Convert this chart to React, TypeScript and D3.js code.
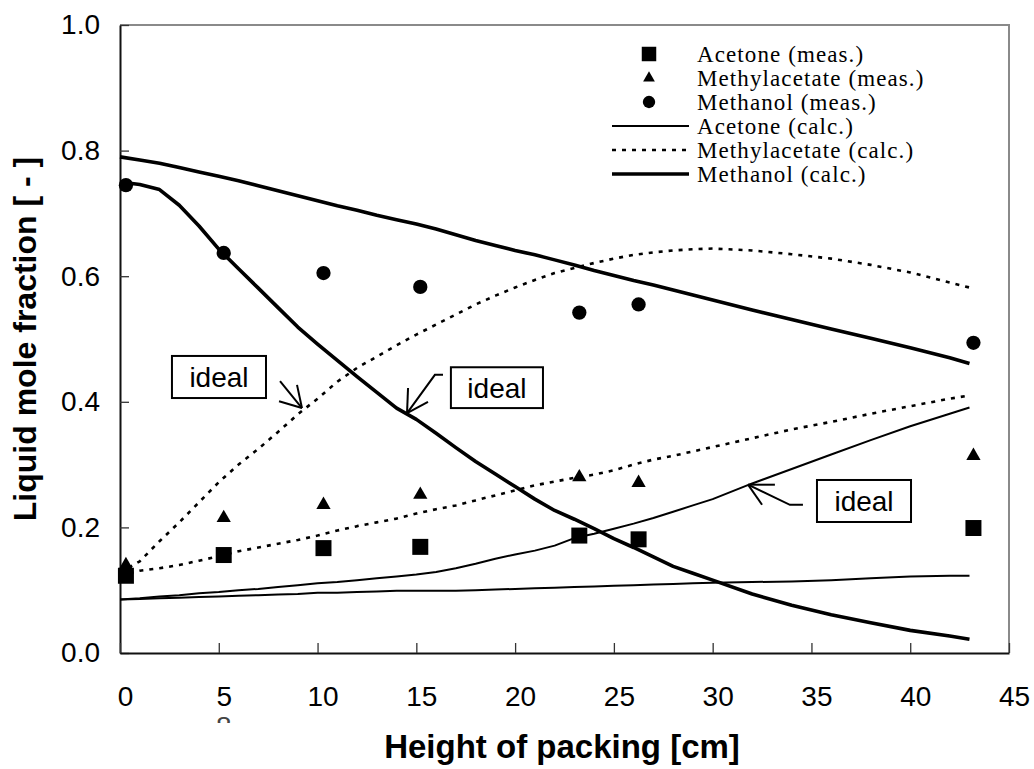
import { useEffect, useRef } from 'react';
import * as d3 from 'd3';

// height of packing [cm] for the calculated profiles
const heights = [0, 1, 2, 3, 4, 5, 6, 7, 8, 9, 10, 11, 12, 13, 14, 15, 16, 17, 18, 19, 20,
  21, 22, 23, 24, 25, 26, 27, 28, 29, 30, 32, 34, 36, 38, 40, 42, 43];

const acetoneCalc = [0.085, 0.086, 0.087, 0.088, 0.089, 0.090, 0.091, 0.092, 0.093, 0.094, 0.096,
  0.096, 0.097, 0.098, 0.099, 0.099, 0.099, 0.099, 0.100, 0.101, 0.102,
  0.103, 0.104, 0.105, 0.106, 0.107, 0.108, 0.109, 0.110, 0.111, 0.112,
  0.113, 0.114, 0.116, 0.119, 0.122, 0.123, 0.123];
const acetoneIdeal = [0.085, 0.087, 0.090, 0.092, 0.095, 0.097, 0.100, 0.102, 0.105, 0.108, 0.111,
  0.113, 0.116, 0.119, 0.122, 0.125, 0.129, 0.135, 0.142, 0.150, 0.157,
  0.163, 0.171, 0.183, 0.190, 0.198, 0.206, 0.215, 0.225, 0.235, 0.245,
  0.270, 0.293, 0.316, 0.339, 0.361, 0.381, 0.391];
const methylacetateCalc = [0.123, 0.131, 0.135, 0.140, 0.147, 0.154, 0.162, 0.168, 0.174, 0.180, 0.187,
  0.195, 0.202, 0.208, 0.214, 0.222, 0.229, 0.235, 0.243, 0.251, 0.259,
  0.267, 0.273, 0.279, 0.284, 0.291, 0.300, 0.308, 0.314, 0.321, 0.328,
  0.342, 0.356, 0.368, 0.381, 0.393, 0.405, 0.410];
const methylacetateIdeal = [0.128, 0.146, 0.178, 0.208, 0.240, 0.272, 0.300, 0.325, 0.352, 0.380, 0.405,
  0.432, 0.454, 0.472, 0.490, 0.507, 0.523, 0.539, 0.555, 0.569, 0.582,
  0.594, 0.605, 0.613, 0.621, 0.628, 0.634, 0.638, 0.641, 0.643, 0.644,
  0.641, 0.635, 0.628, 0.618, 0.606, 0.590, 0.582];
const methanolCalc = [0.790, 0.785, 0.780, 0.773, 0.766, 0.759, 0.752, 0.744, 0.736, 0.728, 0.720,
  0.712, 0.705, 0.697, 0.690, 0.683, 0.675, 0.666, 0.657, 0.649, 0.641,
  0.634, 0.626, 0.618, 0.609, 0.601, 0.593, 0.586, 0.578, 0.570, 0.562,
  0.546, 0.531, 0.516, 0.501, 0.486, 0.470, 0.461];
const methanolIdeal = [0.750, 0.746, 0.738, 0.713, 0.680, 0.643, 0.612, 0.581, 0.550, 0.519, 0.492,
  0.466, 0.440, 0.415, 0.390, 0.372, 0.350, 0.327, 0.305, 0.285, 0.265,
  0.245, 0.227, 0.213, 0.198, 0.182, 0.168, 0.153, 0.138, 0.127, 0.116,
  0.094, 0.076, 0.061, 0.048, 0.036, 0.027, 0.022];

// measured points
const measHeights = [0.3, 5.25, 10.3, 15.2, 23.25, 26.25, 43.2];
const acetoneMeas = [0.123, 0.156, 0.167, 0.169, 0.187, 0.181, 0.199];
const methylacetateMeas = [0.140, 0.215, 0.236, 0.252, 0.280, 0.271, 0.314];
const methanolMeas = [0.745, 0.637, 0.605, 0.583, 0.542, 0.555, 0.494];

const xTicks = [0, 5, 10, 15, 20, 25, 30, 35, 40, 45];
const yTicks = [0, 0.2, 0.4, 0.6, 0.8, 1.0];

const legendLabels = [
  'Acetone (meas.)', 'Methylacetate (meas.)', 'Methanol (meas.)',
  'Acetone (calc.)', 'Methylacetate (calc.)', 'Methanol (calc.)',
];

// "ideal" call-outs in data units: box corners, arrow polyline (ends at tip), arrow head arms
const idealNotes = [
  { box: [2.63, 0.473, 7.39, 0.406], path: [[8.1, 0.433], [9.21, 0.390]], arms: [[8.05, 0.401], [8.96, 0.427]] },
  { box: [16.75, 0.455, 21.41, 0.390], path: [[16.35, 0.443], [15.94, 0.443], [14.53, 0.382]], arms: [[14.58, 0.422], [15.59, 0.400]] },
  { box: [35.28, 0.2755, 40.04, 0.2086], path: [[34.57, 0.236], [33.91, 0.236], [31.79, 0.268]], arms: [[33.15, 0.268], [32.5, 0.236]] },
];

const SANS = 'Liberation Sans, Arial, sans-serif';
const SERIF = 'Liberation Serif, Times New Roman, serif';

const App = () => {
  const svgRef = useRef<SVGSVGElement>(null);

  useEffect(() => {
    const svg = d3.select(svgRef.current);
    svg.selectAll('*').remove();

    const x = d3.scaleLinear().domain([0, 45]).range([120, 1009]);
    const y = d3.scaleLinear().domain([0, 1]).range([653, 25]);

    // frame: gray top/right
    svg.append('path')
      .attr('d', `M${x(0)},${y(1)}H${x(45)}V${y(0)}`)
      .attr('fill', 'none')
      .attr('stroke', '#8a8a8a')
      .attr('stroke-width', 2);

    const yAxis = svg.append('g')
      .attr('transform', `translate(${x(0)},0)`)
      .call(d3.axisLeft(y).tickValues(yTicks).tickSizeInner(-9).tickSizeOuter(0)
        .tickPadding(20).tickFormat(d3.format('.1f')));
    const xAxis = svg.append('g')
      .attr('transform', `translate(0,${y(0)})`)
      .call(d3.axisBottom(x).tickValues(xTicks).tickSizeInner(-10).tickSizeOuter(0)
        .tickPadding(33).tickFormat(d3.format('d')));
    [xAxis, yAxis].forEach(g => {
      g.select('.domain').attr('stroke', '#111').attr('stroke-width', 2);
      g.selectAll('.tick line').attr('stroke', '#333').attr('stroke-width', 1.3);
      g.selectAll('.tick text')
        .attr('fill', '#000')
        .style('font-family', SANS)
        .style('font-size', '28px');
    });
    xAxis.selectAll('.tick text').attr('dx', 5);

    // stray clipped glyph under the "5" label
    svg.append('clipPath').attr('id', 'stray').append('rect')
      .attr('x', x(5) - 10).attr('y', 714).attr('width', 30).attr('height', 9);
    svg.append('text')
      .attr('x', x(5) + 5).attr('y', 736)
      .attr('text-anchor', 'middle')
      .attr('clip-path', 'url(#stray)')
      .style('font-family', SANS).style('font-size', '28px')
      .attr('fill', '#444')
      .text('8');

    // axis titles
    svg.append('text')
      .attr('x', 562).attr('y', 758)
      .attr('text-anchor', 'middle')
      .style('font-family', SANS).style('font-size', '33px').style('font-weight', 'bold')
      .text('Height of packing [cm]');
    svg.append('text')
      .attr('transform', `translate(36,${y(0.5)}) rotate(-90)`)
      .attr('text-anchor', 'middle')
      .style('font-family', SANS).style('font-size', '32px').style('font-weight', 'bold')
      .text('Liquid mole fraction [ - ]');

    const line = d3.line<number>()
      .x((_, i) => x(heights[i]))
      .y(d => y(d));

    const thin = { w: 2, dash: null };
    const dotted = { w: 2.6, dash: '4,6' };
    const thick = { w: 3.6, dash: null };
    const curves = [
      { data: acetoneCalc, s: thin },
      { data: acetoneIdeal, s: thin },
      { data: methylacetateCalc, s: dotted },
      { data: methylacetateIdeal, s: dotted },
      { data: methanolCalc, s: thick },
      { data: methanolIdeal, s: thick },
    ];
    curves.forEach(c => {
      svg.append('path')
        .attr('d', line(c.data))
        .attr('fill', 'none')
        .attr('stroke', '#000')
        .attr('stroke-width', c.s.w)
        .attr('stroke-dasharray', c.s.dash)
        .attr('stroke-linejoin', 'round');
    });

    const square = d3.symbol(d3.symbolSquare, 256)();
    const triangle = d3.symbol(d3.symbolTriangle, 88)();
    const circle = d3.symbol(d3.symbolCircle, 160)();
    const meas = [
      { data: acetoneMeas, sym: square },
      { data: methylacetateMeas, sym: triangle },
      { data: methanolMeas, sym: circle },
    ];
    meas.forEach(m => {
      svg.append('g').selectAll('path')
        .data(m.data)
        .enter()
        .append('path')
        .attr('d', m.sym)
        .attr('transform', (d, i) => `translate(${x(measHeights[i])},${y(d)})`)
        .attr('fill', '#000');
    });

    // "ideal" call-outs
    idealNotes.forEach(n => {
      const [x0, y0, x1, y1] = n.box;
      const g = svg.append('g');
      g.append('rect')
        .attr('x', x(x0)).attr('y', y(y0))
        .attr('width', x(x1) - x(x0)).attr('height', y(y1) - y(y0))
        .attr('fill', '#fff').attr('stroke', '#000').attr('stroke-width', 2);
      g.append('text')
        .attr('x', (x(x0) + x(x1)) / 2).attr('y', (y(y0) + y(y1)) / 2 + 10)
        .attr('text-anchor', 'middle')
        .style('font-family', SANS).style('font-size', '28px')
        .text('ideal');
      const tip = n.path[n.path.length - 1];
      const pl = d3.line<number[]>().x(p => x(p[0])).y(p => y(p[1]));
      g.append('path').attr('d', pl(n.path))
        .attr('fill', 'none').attr('stroke', '#000').attr('stroke-width', 2);
      n.arms.forEach(a => {
        g.append('path').attr('d', pl([a, tip]))
          .attr('fill', 'none').attr('stroke', '#000').attr('stroke-width', 2);
      });
    });

    // legend
    const rowY = d3.scalePoint().domain(legendLabels).range([54, 174]);
    const lg = svg.append('g');
    const legendMarks = [
      d3.symbol(d3.symbolSquare, 210)(),
      d3.symbol(d3.symbolTriangle, 60)(),
      d3.symbol(d3.symbolCircle, 120)(),
    ];
    legendLabels.forEach((lab, i) => {
      const cy = rowY(lab) as number;
      if (i < 3) {
        lg.append('path')
          .attr('d', legendMarks[i])
          .attr('transform', `translate(649,${cy})`)
          .attr('fill', '#000');
      } else {
        const s = curves[(i - 3) * 2].s;
        lg.append('line')
          .attr('x1', 612).attr('x2', 689).attr('y1', cy).attr('y2', cy)
          .attr('stroke', '#000')
          .attr('stroke-width', s.w)
          .attr('stroke-dasharray', s.dash);
      }
      lg.append('text')
        .attr('x', 697).attr('y', cy + 8)
        .style('font-family', SERIF).style('font-size', '23px')
        .style('letter-spacing', '1.1px')
        .text(lab);
    });
  }, []);

  return (
    <svg ref={svgRef} width={1034} height={769}
      style={{ position: 'absolute', left: 0, top: 0, background: '#fff' }} />
  );
};

export default App;
